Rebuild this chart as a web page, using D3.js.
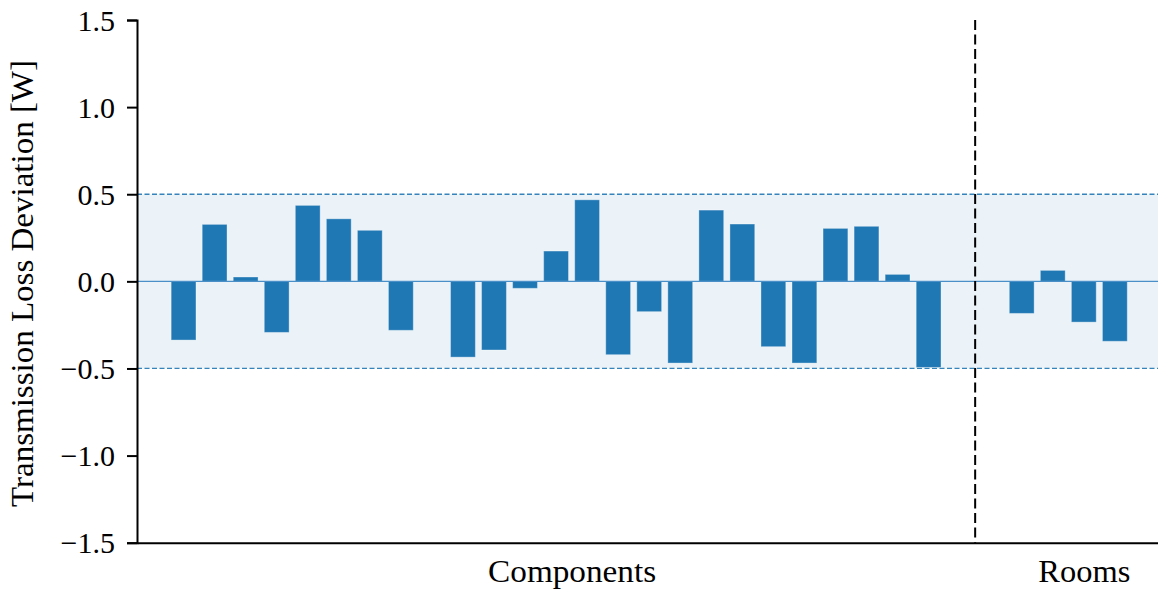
<!DOCTYPE html>
<html>
<head>
<meta charset="utf-8">
<script src="https://cdn.jsdelivr.net/npm/d3@7"></script>
<style>
  html, body { margin: 0; padding: 0; background: #fff; }
  svg { display: block; }
  svg text { font-family: "Liberation Serif", "Times New Roman", serif !important; fill: #000; }
</style>
</head>
<body>
<svg id="chart" width="1158" height="590"></svg>
<script>
// Deviation of transmission loss per component and per room [W]
const componentValues = [-0.337, 0.327, 0.025, -0.293, 0.436, 0.359, 0.293, -0.281, null,
  -0.435, -0.394, -0.040, 0.174, 0.468, -0.421, -0.174, -0.469, 0.409, 0.329, -0.375,
  -0.469, 0.304, 0.316, 0.040, -0.494];
const roomValues = [-0.184, 0.063, -0.234, -0.344];
const roomStart = 27;           // slot index of the first room bar
const dividerSlot = 25.5;       // separator between the two groups
const groupLabels = ["Components", "Rooms"];
const groupLabelSlots = [12.5, 29];
const tolerance = 0.5;          // acceptable deviation band
const yTicks = [-1.5, -1.0, -0.5, 0.0, 0.5, 1.0, 1.5];
const yLabel = "Transmission Loss Deviation [W]";
const serif = "'Liberation Serif', 'Times New Roman', serif";

const bars = [
  ...componentValues.map((v, i) => ({ slot: i, value: v })),
  ...roomValues.map((v, i) => ({ slot: roomStart + i, value: v }))
].filter(d => d.value !== null);

const svg = d3.select("#chart");
const plotLeft = 137, plotRight = 1158, plotTop = 20, plotBottom = 542.7;

const x = d3.scaleLinear().domain([-1.5, 31.39]).range([plotLeft, plotRight]);
const y = d3.scaleLinear().domain([-1.5, 1.5]).range([plotBottom, plotTop]);
const barW = x(0.8) - x(0);
const blue = "#1f77b4";

// tolerance band
svg.append("rect")
  .attr("x", plotLeft).attr("y", y(tolerance))
  .attr("width", plotRight - plotLeft).attr("height", y(-tolerance) - y(tolerance))
  .attr("fill", blue).attr("fill-opacity", 0.09);

[tolerance, -tolerance].forEach(v => {
  svg.append("line")
    .attr("x1", plotLeft).attr("x2", plotRight)
    .attr("y1", y(v)).attr("y2", y(v))
    .attr("stroke", blue).attr("stroke-opacity", 0.9)
    .attr("stroke-width", 1.3).attr("stroke-dasharray", "5,2.5");
});

// bars
svg.append("g").selectAll("rect").data(bars).join("rect")
  .attr("x", d => x(d.slot) - barW / 2)
  .attr("width", barW)
  .attr("y", d => y(Math.max(0, d.value)))
  .attr("height", d => Math.abs(y(d.value) - y(0)))
  .attr("fill", blue)
  .attr("stroke", "#ffffff").attr("stroke-opacity", 0.35).attr("stroke-width", 1);

// zero line
svg.append("line")
  .attr("x1", plotLeft).attr("x2", plotRight)
  .attr("y1", y(0)).attr("y2", y(0))
  .attr("stroke", "#4a8fc7").attr("stroke-width", 1.4);

// group divider
svg.append("line")
  .attr("x1", x(dividerSlot)).attr("x2", x(dividerSlot))
  .attr("y1", plotTop).attr("y2", plotBottom)
  .attr("stroke", "#000").attr("stroke-width", 2)
  .attr("stroke-dasharray", "10,4.5");

// y axis
const yAxis = d3.axisLeft(y).tickValues(yTicks).tickFormat(d3.format(".1f"))
  .tickSizeOuter(0).tickSize(10).tickPadding(10);
const gy = svg.append("g").attr("transform", `translate(${plotLeft},0)`).call(yAxis)
  .attr("font-family", serif);
gy.select(".domain").attr("stroke", "#000").attr("stroke-width", 2);
gy.selectAll(".tick line").attr("stroke", "#000").attr("stroke-width", 2);
gy.selectAll(".tick text")
  .attr("font-size", 30)
  .attr("x", -22)
  .attr("dy", "0.34em");

// x axis (group labels, no tick marks)
const xAxis = d3.axisBottom(x).tickValues(groupLabelSlots)
  .tickFormat((d, i) => groupLabels[i]).tickSize(0).tickSizeOuter(0).tickPadding(0);
const gx = svg.append("g").attr("transform", `translate(0,${plotBottom})`).call(xAxis)
  .attr("font-family", serif);
gx.select(".domain").attr("stroke", "#000").attr("stroke-width", 2);
gx.selectAll(".tick text")
  .attr("font-size", 31)
  .attr("dy", 0)
  .attr("y", 39)
  .attr("textLength", (d, i) => [168, 92][i])
  .attr("lengthAdjust", "spacingAndGlyphs");

// y label
svg.append("text")
  .attr("transform", `translate(33,${(60 + 507) / 2}) rotate(-90)`)
  .attr("text-anchor", "middle")
  .attr("font-family", serif)
  .attr("font-size", 31)
  .attr("textLength", 447)
  .attr("lengthAdjust", "spacingAndGlyphs")
  .text(yLabel);
</script>
</body>
</html>
